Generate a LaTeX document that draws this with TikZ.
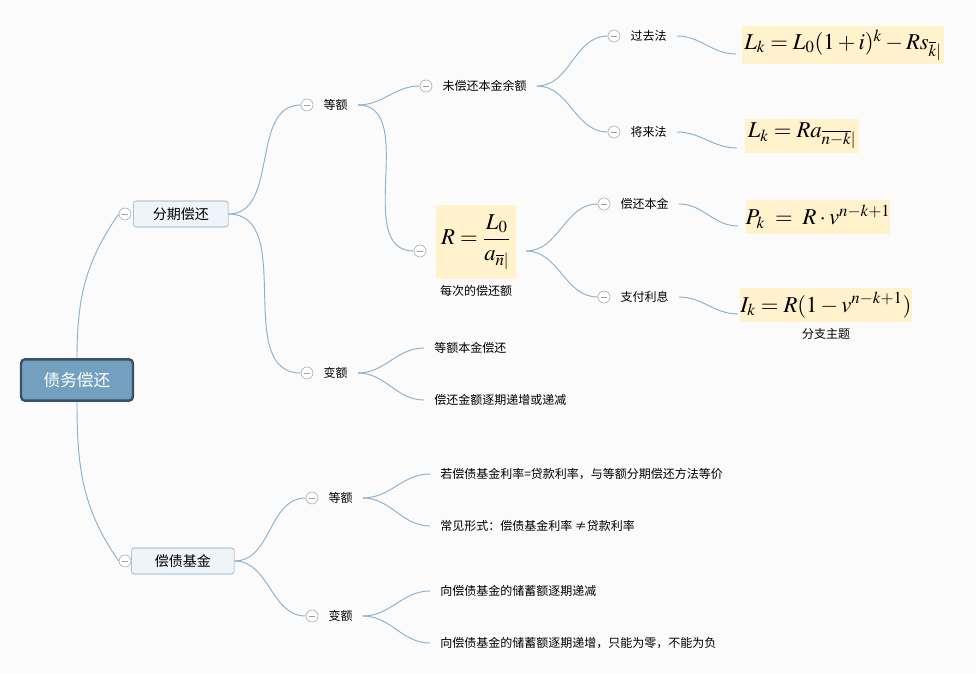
\documentclass[tikz,border=0pt]{standalone}
\usepackage{mathptmx}
\usepackage{fontspec}
\newfontfamily\cjk{Noto Sans CJK SC}
\usetikzlibrary{positioning}
\definecolor{mapLine}{RGB}{138,176,204}
\definecolor{mapRootFill}{RGB}{116,160,192}
\definecolor{mapRootDraw}{RGB}{58,80,100}
\definecolor{mapMainFill}{RGB}{239,244,248}
\definecolor{mapMainDraw}{RGB}{128,166,196}
\definecolor{mapFormula}{RGB}{255,242,204}
\definecolor{mapFold}{RGB}{158,158,158}
\definecolor{mapBack}{RGB}{251,251,251}
\newcommand{\annu}[1]{_{\overline{#1}|}}
\begin{document}
\begin{tikzpicture}[
  x=0.75pt,y=-0.75pt,
  root/.style={
    draw=mapRootDraw,
    fill=mapRootFill,
    line width=1.8pt,
    rounded corners=3pt,
    minimum width=84pt,
    minimum height=31pt,
    text=white,
    font=\cjk\fontsize{12.5}{14}\selectfont
  },
  main/.style={
    draw=mapMainDraw,
    fill=mapMainFill,
    rounded corners=2pt,
    minimum height=19.5pt,
    font=\cjk\fontsize{10.5}{12}\selectfont
  },
  topic/.style={inner xsep=7.5pt,inner ysep=2pt,font=\cjk\fontsize{9}{11}\selectfont},
  leaf/.style={anchor=west,inner xsep=7.5pt,inner ysep=2pt,font=\cjk\fontsize{9}{11}\selectfont},
  formula/.style={fill=mapFormula,inner sep=0pt,font=\fontsize{17}{20}\selectfont},
  fold/.style={
    circle,
    draw=mapFold,
    fill=white,
    inner sep=0pt,
    minimum size=9pt,
    path picture={\draw[mapFold]
      ([xshift=-2.6pt]path picture bounding box.center) --
      ([xshift=2.6pt]path picture bounding box.center);}
  },
  branch/.style={draw=mapLine,line width=0.7pt}
]
  \fill[mapBack] (0,0) rectangle (976,674);
  \useasboundingbox (0,0) rectangle (976,674);

  % centre and main topics
  \node[root] (debt) at (77,380) {债务偿还};
  \node[fold] (foldInst) at (125,214) {};
  \node[main,minimum width=71pt,right=1.5pt of foldInst] (inst) {分期偿还};
  \node[fold] (foldFund) at (125,561) {};
  \node[main,minimum width=77pt,right=0pt of foldFund] (fund) {偿债基金};

  % instalments
  \node[fold] (foldEq) at (307,105) {};
  \node[topic,right=0pt of foldEq] (eq) {等额};
  \node[fold] (foldVar) at (307,373) {};
  \node[topic,right=0pt of foldVar] (var) {变额};

  \node[fold] (foldBal) at (426,86) {};
  \node[topic,right=0pt of foldBal] (bal) {未偿还本金余额};
  \node[fold] (foldPast) at (614,36) {};
  \node[topic,right=0pt of foldPast] (past) {过去法};
  \node[fold] (foldFut) at (614,132) {};
  \node[topic,right=0pt of foldFut] (fut) {将来法};
  \node[formula,minimum width=151pt,minimum height=29pt] (fPast) at (843,45)
    {$L_k=L_0(1+i)^k-Rs\annu{k}$};
  \node[formula,minimum width=85pt,minimum height=25.5pt] (fFut) at (802,136)
    {$L_k=Ra\annu{n-k}$};
  \coordinate (inPast) at (736,54);
  \coordinate (inFut) at (737,148);

  \node[fold] (foldPay) at (420,251) {};
  \node[formula,minimum width=60pt,minimum height=55.5pt] (fPay) at (476,242)
    {$\displaystyle R=\frac{L_0}{a\annu{n}}$};
  \node[topic,below=2pt of fPay] (payNote) {每次的偿还额};
  \coordinate (outPay) at (526,251);
  \node[fold] (foldPrin) at (604,204) {};
  \node[topic,right=0pt of foldPrin] (prin) {偿还本金};
  \node[fold] (foldInt) at (604,297) {};
  \node[topic,right=0pt of foldInt] (int) {支付利息};
  \node[formula,minimum width=105pt,minimum height=26pt] (fPrin) at (818,217)
    {$P_k\;=\;R\cdot v^{n-k+1}$};
  \node[formula,minimum width=118pt,minimum height=26pt] (fInt) at (826,305)
    {$I_k=R(1-v^{n-k+1})$};
  \node[topic,below=2pt of fInt] (intNote) {分支主题};
  \coordinate (inPrin) at (738,226);
  \coordinate (inInt) at (738,314);

  \node[leaf] (varA) at (424,348) {等额本金偿还};
  \node[leaf] (varB) at (424,400) {偿还金额逐期递增或递减};

  % sinking fund
  \node[fold] (foldFundEq) at (312,498) {};
  \node[topic,right=0pt of foldFundEq] (fundEq) {等额};
  \node[fold] (foldFundVar) at (312,616) {};
  \node[topic,right=0pt of foldFundVar] (fundVar) {变额};
  \node[leaf] (fundEqA) at (430,474) {若偿债基金利率=贷款利率，与等额分期偿还方法等价};
  \node[leaf] (fundEqB) at (430,526) {常见形式：偿债基金利率 ≠贷款利率};
  \node[leaf] (fundVarA) at (430,591) {向偿债基金的储蓄额逐期递减};
  \node[leaf] (fundVarB) at (430,643) {向偿债基金的储蓄额逐期递增，只能为零，不能为负};

  % connectors
  \draw[branch] (debt.north) to[out=90,in=235] (foldInst.west);
  \draw[branch] (debt.south) to[out=-90,in=125] (foldFund.west);
  \draw[branch] (inst.east) to[out=0,in=180] (foldEq.west);
  \draw[branch] (inst.east) to[out=0,in=180] (foldVar.west);
  \draw[branch] (eq.east) to[out=0,in=180] (foldBal.west);
  \draw[branch] (eq.east) to[out=0,in=180] (foldPay.west);
  \draw[branch] (bal.east) to[out=0,in=180] (foldPast.west);
  \draw[branch] (bal.east) to[out=0,in=180] (foldFut.west);
  \draw[branch] (past.east) to[out=0,in=180] (inPast);
  \draw[branch] (fut.east) to[out=0,in=180] (inFut);
  \draw[branch] (outPay) to[out=0,in=180] (foldPrin.west);
  \draw[branch] (outPay) to[out=0,in=180] (foldInt.west);
  \draw[branch] (prin.east) to[out=0,in=180] (inPrin);
  \draw[branch] (int.east) to[out=0,in=180] (inInt);
  \draw[branch] (var.east) to[out=0,in=180] (varA.west);
  \draw[branch] (var.east) to[out=0,in=180] (varB.west);
  \draw[branch] (fund.east) to[out=0,in=180] (foldFundEq.west);
  \draw[branch] (fund.east) to[out=0,in=180] (foldFundVar.west);
  \draw[branch] (fundEq.east) to[out=0,in=180] (fundEqA.west);
  \draw[branch] (fundEq.east) to[out=0,in=180] (fundEqB.west);
  \draw[branch] (fundVar.east) to[out=0,in=180] (fundVarA.west);
  \draw[branch] (fundVar.east) to[out=0,in=180] (fundVarB.west);
\end{tikzpicture}
\end{document}
